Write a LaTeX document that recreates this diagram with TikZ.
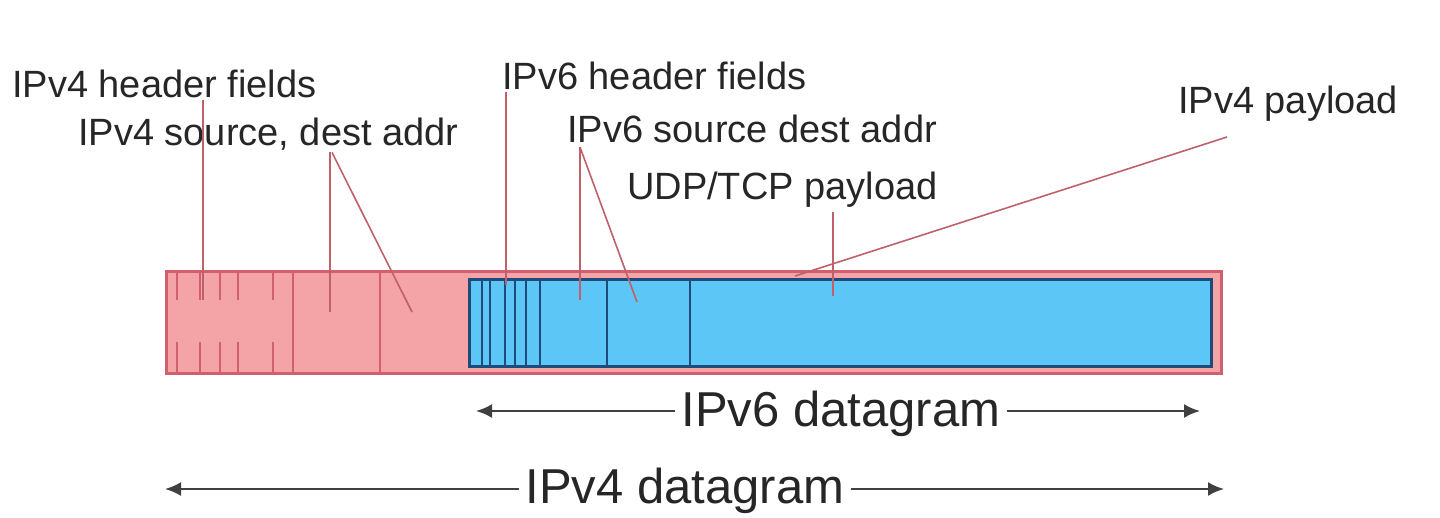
\documentclass[tikz,border=0pt]{standalone}
\usepackage{fontspec}
\setmainfont{Liberation Sans}
\usetikzlibrary{arrows.meta}
\definecolor{pinkfill}{HTML}{F4A3A6}
\definecolor{pinkline}{HTML}{D0606E}
\definecolor{bluefill}{HTML}{5CC6F6}
\definecolor{blueline}{HTML}{1F4A7A}
\definecolor{leader}{HTML}{C0606A}
\definecolor{txt}{HTML}{262626}
\tikzset{
  lbl/.style={anchor=west, inner sep=0pt, text=txt, font=\fontsize{38}{40}\selectfont},
  biglbl/.style={inner sep=6pt, text=txt, font=\fontsize{49}{52}\selectfont},
  lead/.style={draw=leader, line width=1.6pt},
  field4/.style={draw=pinkline, line width=2pt},
  field6/.style={draw=blueline, line width=2pt},
  dimline/.style={draw=black!75, line width=2.2pt, -{Latex[length=16pt,width=14pt]}},
}
\begin{document}
\begin{tikzpicture}[x=1pt,y=-1pt]
\useasboundingbox (0,0) rectangle (1440,518);
% boxes
\node[draw=pinkline, fill=pinkfill, line width=3pt, minimum width=1055pt, minimum height=102pt, inner sep=0pt, anchor=north west] (v4box) at (165,270) {};
\node[draw=blueline, fill=bluefill, line width=3pt, minimum width=742pt, minimum height=87pt, inner sep=0pt, anchor=north west] (v6box) at (468,278) {};
% IPv4 header ticks
\foreach \x in {177,200,220,238,273}{
  \draw[field4] (\x,270) -- (\x,300);
  \draw[field4] (\x,342) -- (\x,372);
}
\foreach \x in {293,380}{
  \draw[field4] (\x,270) -- (\x,372);
}
% IPv6 header lines
\foreach \x in {482,490,505,515,526,540,607,690}{
  \draw[field6] (\x,278) -- (\x,365);
}
% labels
\node[lbl] (l4h) at (12,84) {IPv4 header fields};
\node[lbl] (l4a) at (78,134) {IPv4 source, dest addr};
\node[lbl] (l6h) at (502,76) {IPv6 header fields};
\node[lbl] (l6a) at (567,129) {IPv6 source dest addr};
\node[lbl] (lup) at (627,190) {UDP/TCP payload};
\node[lbl] (l4p) at (1178,104) {IPv4 payload};
% leader end points
\coordinate (p4h) at (203,300);
\coordinate (p4a1) at (330,312);
\coordinate (p4a2) at (412,312);
\coordinate (p6h) at (506,285);
\coordinate (p6a1) at (580,300);
\coordinate (p6a2) at (637,302);
\coordinate (pup) at (833,296);
\coordinate (p4p) at (795,276);
% leaders
\draw[lead] (l4h.south west -| p4h) ++(0,2) -- (p4h);
\draw[lead] (l4a.south west -| p4a1) ++(0,2) -- (p4a1);
\draw[lead] (l4a.south west -| p4a1) ++(2,2) -- (p4a2);
\draw[lead] (l6h.south west -| p6h) ++(0,2) -- (p6h);
\draw[lead] (l6a.south west -| p6a1) ++(0,4) -- (p6a1);
\draw[lead] (l6a.south west -| p6a1) ++(0,4) -- (p6a2);
\draw[lead] (lup.south west -| pup) ++(0,4) -- (pup);
\draw[lead] (1227,137) -- (p4p);
% dimension arrows
\node[biglbl] (d6) at (841,414) {IPv6 datagram};
\coordinate (d6l) at (476,411);
\coordinate (d6r) at (1200,411);
\draw[dimline] (d6.west |- d6l) -- (d6l);
\draw[dimline] (d6.east |- d6r) -- (d6r);
\node[biglbl] (d4) at (685,491) {IPv4 datagram};
\coordinate (d4l) at (165,489);
\coordinate (d4r) at (1224,489);
\draw[dimline] (d4.west |- d4l) -- (d4l);
\draw[dimline] (d4.east |- d4r) -- (d4r);
\end{tikzpicture}
\end{document}
